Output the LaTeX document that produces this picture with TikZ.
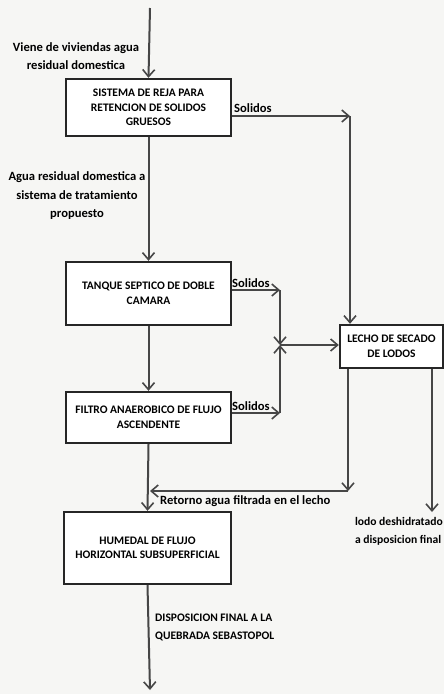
\documentclass[tikz,border=0pt]{standalone}
\usepackage{fontspec}
\setmainfont{Carlito}
\usetikzlibrary{arrows.meta}
\definecolor{linea}{RGB}{70,70,70}
\definecolor{papel}{RGB}{246,246,244}

\begin{document}
\begin{tikzpicture}[x=1pt,y=-1pt,
  caja/.style={draw=black!85, line width=2.4pt, fill=white, align=center,
    font=\bfseries\fontsize{11.5}{14.5}\selectfont, inner sep=2pt},
  flecha/.style={draw=linea, line width=2pt, -{Straight Barb[length=7pt,width=12pt,line width=1.6pt]}},
  etiqueta/.style={font=\bfseries\fontsize{12.6}{18.5}\selectfont, align=center, inner sep=0pt},
  rotulo/.style={font=\bfseries\fontsize{11.5}{18}\selectfont, inner sep=0pt}]

% background and page size
\fill[papel] (0,0) rectangle (444,694);
\useasboundingbox (0,0) rectangle (444,694);

%---------------------------------------
% Treatment line (left column)
%---------------------------------------
\node[caja, minimum width=165pt, minimum height=57pt] (reja) at (148.5,107.5)
  {SISTEMA DE REJA PARA\\RETENCION DE SOLIDOS\\GRUESOS};
\node[caja, minimum width=165pt, minimum height=63pt] (tanque) at (148.5,293.5)
  {TANQUE SEPTICO DE DOBLE\\CAMARA};
\node[caja, minimum width=165pt, minimum height=51pt] (filtro) at (148.5,417.5)
  {FILTRO ANAEROBICO DE FLUJO\\ASCENDENTE};
\node[caja, minimum width=167pt, minimum height=72pt] (humedal) at (147.5,548)
  {HUMEDAL DE FLUJO\\HORIZONTAL SUBSUPERFICIAL};

% sludge bed (right)
\node[caja, minimum width=103pt, minimum height=43pt] (lecho) at (391.5,346.5)
  {LECHO DE SECADO\\DE LODOS};

%---------------------------------------
% Helper points
%---------------------------------------
\coordinate (inicio) at (150,8);
\coordinate (fin) at (150,690);
\coordinate (s1) at (350,116);
\coordinate (s2) at (280,290);
\coordinate (s3) at (280,413);
\coordinate (junta) at (280,345);
\coordinate (ret) at (348,491);
\coordinate (ret2) at (150,491);
\coordinate (lodo) at (432,512);

%---------------------------------------
% Water flow
%---------------------------------------
\draw[flecha] (inicio) -- (reja.north);
\draw[flecha] (reja.south) -- (tanque.north);
\draw[flecha] (tanque.south) -- (filtro.north);
\draw[flecha] (filtro.south) -- (humedal.north);
\draw[flecha] (humedal.south) -- (fin);

\node[etiqueta] (viene) at (76,56) {Viene de viviendas agua\\residual domestica};
\node[etiqueta] (agua) at (77,196) {Agua residual domestica a\\sistema de tratamiento\\propuesto};
\node[rotulo, anchor=west, align=left] (dispo) at (155,627)
  {DISPOSICION FINAL A LA\\QUEBRADA SEBASTOPOL};

%---------------------------------------
% Solids to the drying bed
%---------------------------------------
\draw[flecha] (reja.east |- s1) -- (s1);
\draw[flecha] (s1) -- (s1 |- lecho.north);
\node[etiqueta, anchor=south west] (sol1) at (234,113) {Solidos};

\draw[flecha] (tanque.east |- s2) -- (s2);
\draw[flecha] (s2) -- (junta);
\node[etiqueta, anchor=south west] (sol2) at (232,288) {Solidos};

\draw[flecha] (filtro.east |- s3) -- (s3);
\draw[flecha] (s3) -- (junta);
\node[etiqueta, anchor=south west] (sol3) at (232,411) {Solidos};

\draw[flecha] (junta) -- (junta -| lecho.west);

%---------------------------------------
% Outputs of the drying bed
%---------------------------------------
\draw[flecha] (lecho.south -| ret) -- (ret);
\draw[flecha] (ret) -- (ret2);
\node[etiqueta, anchor=west] (retorno) at (160,501) {Retorno agua filtrada en el lecho};

\draw[flecha] (lecho.south -| lodo) -- (lodo);
\node[etiqueta, align=left, anchor=east, font=\bfseries\fontsize{11.6}{18}\selectfont]
  (deshid) at (443,531) {lodo deshidratado\\a disposicion final};

\end{tikzpicture}
\end{document}
